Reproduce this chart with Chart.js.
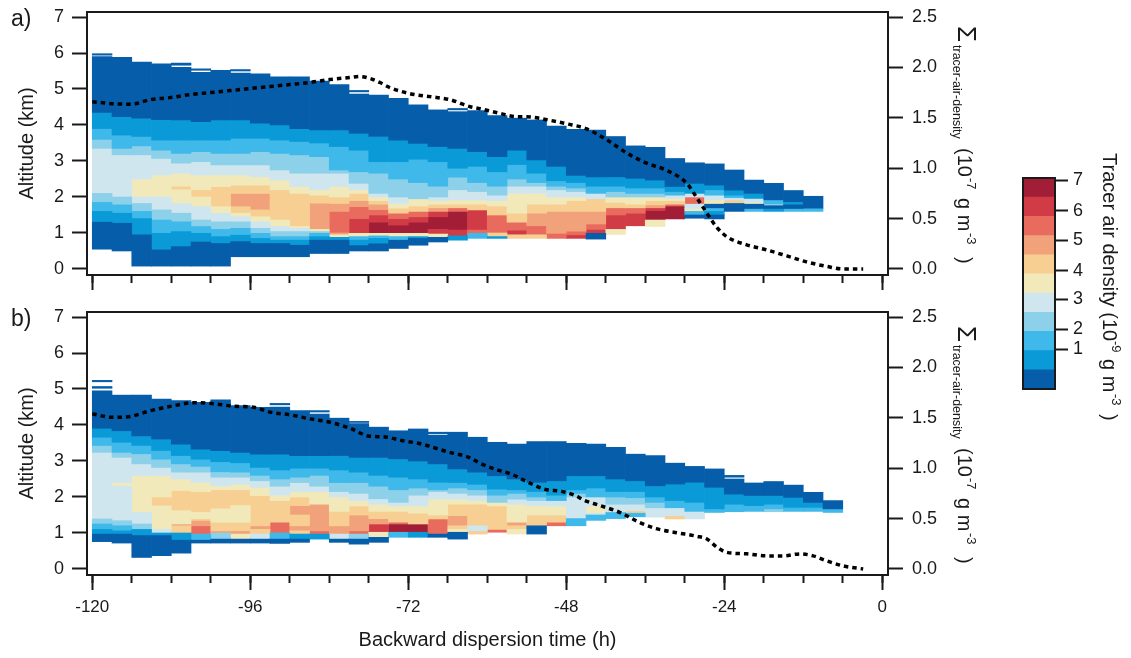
<!DOCTYPE html>
<html><head><meta charset="utf-8">
<script src="https://cdn.jsdelivr.net/npm/chart.js@4.4.1/dist/chart.umd.min.js"></script>
<style>
html,body{margin:0;padding:0;background:#fff;width:1131px;height:658px;overflow:hidden;}
canvas{position:absolute;}
#ca{left:0;top:0;} #cb{left:0;top:300px;} #cc{left:1000px;top:140px;}
</style></head><body>
<canvas id="ca" width="1000" height="300"></canvas>
<canvas id="cb" width="1000" height="358"></canvas>
<canvas id="cc" width="131" height="300"></canvas>
<script>
// ---------- DATA ----------
// start time (h) of each 3-h column
const colStartA = [-120,-117,-114,-111,-108,-105,-102,-99,-96,-93,-90,-87,-84,-81,-78,-75,-72,-69,-66,-63,-60,-57,-54,-51,-48,-45,-42,-39,-36,-33,-30,-27,-24,-21,-18,-15,-12];
const colStartB = [-120,-117,-114,-111,-108,-105,-102,-99,-96,-93,-90,-87,-84,-81,-78,-75,-72,-69,-66,-63,-60,-57,-54,-51,-48,-45,-42,-39,-36,-33,-30,-27,-24,-21,-18,-15,-12,-9];
// per column: "alt level alt level ... alt"  (altitude km, colour level 0..10, -1 = empty)
const colsA = [
"0.55 0 1.3 1 1.6 2 1.85 3 2.1 4 3.35 3 3.6 2 3.9 1 4.35 0 5.9 -1 5.94 0 5.98",
"0.5 0 1.27 1 1.55 2 1.78 3 2.0 4 3.17 3 3.35 2 3.72 1 4.23 0 5.88",
"0.08 0 0.95 1 1.4 2 1.6 3 1.82 4 2.0 5 2.5 4 3.17 3 3.42 2 3.68 1 4.19 0 5.75",
"0.08 0 0.53 1 0.99 2 1.36 3 1.64 4 2.0 5 2.61 4 3.07 3 3.3 2 3.58 1 4.15 0 5.7",
"0.08 0 0.62 1 1.04 2 1.31 3 1.55 4 1.82 5 2.2 6 2.3 5 2.66 4 2.94 3 3.21 2 3.58 1 4.14 0 5.6 -1 5.66 0 5.72",
"0.08 0 0.75 1 0.99 2 1.18 3 1.36 4 1.73 5 2.0 6 2.2 5 2.61 4 2.98 3 3.26 2 3.58 1 4.09 0 5.46 -1 5.52 0 5.56",
"0.08 0 0.71 1 0.9 2 1.1 3 1.31 4 1.55 5 1.73 6 2.29 5 2.61 4 2.89 3 3.21 2 3.58 1 4.14 0 5.52",
"0.34 0 0.76 1 0.94 2 1.13 3 1.31 4 1.45 5 1.55 6 1.73 7 2.1 6 2.33 5 2.61 4 2.89 3 3.21 2 3.63 1 4.14 0 5.44 -1 5.5 0 5.54",
"0.34 0 0.71 1 0.85 2 0.99 3 1.13 4 1.31 5 1.45 6 1.64 7 2.1 6 2.33 5 2.56 4 2.89 3 3.26 2 3.63 1 4.05 0 5.42",
"0.34 0 0.71 1 0.8 2 0.9 3 1.04 4 1.18 5 1.36 6 2.2 5 2.47 4 2.75 3 3.21 2 3.58 1 4.0 0 5.34",
"0.34 0 0.66 1 0.8 2 0.9 3 1.04 4 1.13 5 1.18 6 2.1 5 2.29 4 2.66 3 3.17 2 3.54 1 3.9 0 5.34",
"0.43 0 0.8 1 0.9 2 0.99 3 1.04 5 1.1 7 1.83 6 2.05 5 2.2 4 2.66 3 3.12 2 3.5 1 3.86 0 5.22",
"0.43 0 0.8 1 0.88 5 0.95 7 1.0 8 1.6 7 1.82 6 2.0 5 2.29 4 2.66 3 2.75 2 3.4 1 3.86 0 5.12",
"0.5 0 0.65 1 0.8 2 0.9 5 0.99 9 1.4 8 1.73 7 1.9 6 2.1 5 2.2 4 2.38 3 2.7 2 3.3 1 3.77 0 4.86 -1 4.92 0 4.96",
"0.5 0 0.7 1 0.85 2 0.92 5 0.99 10 1.3 9 1.5 8 1.65 7 1.8 6 1.9 5 2.0 4 2.1 3 2.66 2 2.98 1 3.68 0 4.83",
"0.57 0 0.8 2 0.9 5 0.99 10 1.22 9 1.4 8 1.55 6 1.69 5 1.82 4 2.0 3 2.5 2 2.98 1 3.58 0 4.74",
"0.66 0 0.85 1 0.9 5 0.99 10 1.3 9 1.45 8 1.6 6 1.75 5 1.95 3 2.4 2 3.05 1 3.49 0 4.56",
"0.75 0 0.88 5 0.97 9 1.1 10 1.45 9 1.6 7 1.7 6 1.8 5 1.9 4 2.0 3 2.3 2 2.98 1 3.4 0 4.42",
"0.8 1 0.92 9 1.08 10 1.6 8 1.7 6 1.8 5 1.92 4 2.2 3 2.55 2 2.8 1 3.35 0 4.37 -1 4.42 0 4.46",
"0.85 2 0.99 8 1.08 9 1.64 6 1.8 5 1.92 4 2.15 3 2.4 2 2.85 1 3.26 0 4.4",
"0.85 1 0.9 6 1.0 8 1.5 6 1.75 5 1.9 4 2.05 3 2.3 2 2.7 1 3.12 0 4.26",
"0.85 6 0.95 9 1.08 8 1.3 6 1.55 5 2.1 4 2.3 3 2.5 2 2.9 1 3.3 0 4.19",
"0.85 6 0.95 8 1.2 7 1.55 6 1.8 5 2.1 4 2.3 3 2.4 2 2.66 1 3.03 0 4.14",
"0.85 8 0.99 7 1.6 6 1.8 5 2.0 4 2.2 3 2.3 2 2.45 1 2.85 0 3.97",
"0.85 9 0.95 8 1.05 7 1.6 6 1.9 5 2.0 4 2.15 3 2.25 2 2.4 1 2.6 0 3.88",
"0.83 0 0.99 9 1.1 8 1.25 7 1.6 6 1.95 4 2.1 2 2.3 1 2.56 0 3.86",
"0.96 5 1.1 9 1.5 8 1.7 6 1.85 5 2.0 3 2.15 2 2.3 1 2.56 0 3.68",
"1.2 9 1.55 8 1.7 6 1.8 5 2.0 3 2.1 2 2.25 1 2.52 0 3.42",
"1.18 5 1.36 10 1.62 9 1.7 7 1.78 6 1.9 5 2.0 3 2.1 2 2.25 1 2.47 0 3.38",
"1.39 10 1.75 8 1.8 6 1.9 5 1.96 4 2.05 2 2.15 1 2.29 0 3.07",
"1.41 0 1.5 2 1.6 5 1.68 4 1.8 8 2.0 4 2.1 1 2.38 0 2.95",
"1.39 0 1.5 1 1.6 2 1.7 0 1.8 5 1.92 4 2.05 2 2.2 1 2.33 0 2.92",
"1.6 0 1.82 6 1.92 4 1.98 2 2.05 1 2.19 0 2.75",
"1.6 2 1.68 0 1.8 5 1.85 4 1.96 1 2.1 0 2.47",
"1.6 1 1.68 0 1.76 4 1.8 2 1.92 0 2.38",
"1.6 2 1.68 0 1.78 1 1.87 0 2.18",
"1.6 2 1.69 0 2.02"
];
const colsB = [
"0.76 0 0.97 1 1.1 2 1.25 3 1.39 4 3.24 3 3.43 2 3.66 1 3.91 0 4.95 -1 5.02 0 5.07 -1 5.2 0 5.24",
"0.72 0 0.97 1 1.06 2 1.2 3 1.34 4 2.3 5 2.4 4 3.1 3 3.24 2 3.52 1 3.84 0 4.83",
"0.32 0 0.93 1 1.1 3 1.25 4 1.57 5 2.59 4 2.92 3 3.2 2 3.43 1 3.7 0 4.83",
"0.37 0 0.93 1 1.0 4 1.1 5 1.75 6 2.0 5 2.59 4 2.82 3 3.05 2 3.29 1 3.61 0 4.72",
"0.44 0 0.8 1 1.0 6 1.2 7 1.25 5 1.62 6 2.18 5 2.5 4 2.69 3 2.92 2 3.15 1 3.47 0 4.68",
"0.72 0 0.8 2 0.97 8 1.2 7 1.35 6 1.4 5 1.57 6 2.15 5 2.41 4 2.69 3 2.85 2 3.05 1 3.33 0 4.63",
"0.72 0 0.83 3 1.0 7 1.06 6 1.3 5 1.67 6 2.2 5 2.31 4 2.55 3 2.7 2 2.98 1 3.29 0 4.7",
"0.72 0 0.83 5 0.97 7 1.06 6 1.3 5 1.76 6 2.2 5 2.35 4 2.55 3 2.69 2 2.95 1 3.24 0 4.54",
"0.72 0 0.83 4 0.97 6 1.1 7 1.2 6 2.04 5 2.27 4 2.45 3 2.6 2 2.82 1 3.19 0 4.49",
"0.71 0 0.83 2 1.0 8 1.3 6 1.9 5 2.05 4 2.3 3 2.5 2 2.75 1 3.19 0 4.5 -1 4.56 0 4.6",
"0.74 0 0.83 1 0.97 6 1.06 7 1.2 6 1.5 7 1.76 6 2.0 5 2.15 4 2.4 3 2.55 2 2.8 1 3.15 0 4.4",
"0.83 1 0.97 8 1.06 7 1.8 5 2.15 4 2.3 3 2.6 2 2.8 1 3.15 0 4.3 -1 4.36 0 4.4",
"0.74 0 0.83 4 0.97 7 1.2 6 1.6 5 2.0 4 2.15 3 2.4 2 2.75 1 3.15 0 4.19",
"0.69 0 0.83 3 0.97 8 1.06 7 1.5 6 1.75 5 1.9 4 2.1 3 2.4 2 2.69 1 3.1 0 4.04 -1 4.07 0 4.1",
"0.74 0 0.88 5 1.02 9 1.25 7 1.4 6 1.6 5 1.8 4 1.95 3 2.3 2 2.6 1 3.1 0 3.94",
"0.88 2 1.02 10 1.25 8 1.3 6 1.6 5 1.75 4 1.85 3 2.2 2 2.55 1 3.06 0 3.84",
"0.88 1 1.02 10 1.25 6 1.55 5 1.75 4 2.05 3 2.25 2 2.5 1 3.0 0 3.89",
"0.88 0 0.97 8 1.39 6 1.5 5 1.94 4 2.15 3 2.2 2 2.41 1 2.92 0 3.72 -1 3.76 0 3.8",
"0.83 0 1.02 5 1.1 6 1.2 7 1.48 6 1.8 5 1.94 4 2.1 3 2.25 2 2.4 1 2.78 0 3.8",
"0.97 6 1.06 4 1.2 6 1.8 5 1.9 4 2.05 3 2.2 2 2.35 1 2.69 0 3.66",
"1.02 8 1.1 6 1.75 5 1.85 3 2.05 2 2.22 1 2.59 0 3.52",
"0.97 5 1.1 6 1.2 7 1.3 5 1.8 4 1.94 3 2.1 2 2.2 1 2.5 0 3.47",
"0.97 0 1.2 6 1.5 5 1.76 4 1.9 3 2.0 2 2.15 1 2.41 0 3.54",
"1.2 8 1.3 6 1.5 5 1.75 4 1.9 2 2.05 1 2.45 0 3.54",
"1.2 2 1.4 4 2.0 3 2.1 2 2.2 1 2.59 0 3.49",
"1.35 2 1.5 4 1.55 5 1.75 4 2.0 2 2.25 1 2.59 0 3.47",
"1.4 2 1.57 4 1.8 3 2.0 2 2.15 1 2.5 0 3.38",
"1.45 2 1.55 6 1.62 4 1.8 3 1.98 2 2.15 1 2.45 0 3.19",
"1.44 4 1.7 3 1.85 2 2.0 1 2.31 0 3.15",
"1.39 6 1.48 4 1.7 2 1.9 1 2.36 0 2.94",
"1.39 4 1.6 2 1.85 1 2.41 0 2.85",
"1.57 2 1.67 1 2.27 0 2.78",
"1.59 2 1.8 1 2.08 0 2.5 -1 2.55 0 2.6",
"1.6 2 1.76 1 2.04 0 2.39",
"1.59 3 1.67 2 1.8 1 2.04 0 2.43",
"1.6 2 1.71 1 1.99 0 2.33",
"1.6 2 1.71 1 1.85 0 2.13",
"1.57 2 1.67 0 1.9"
];
// Σ tracer-air-density (10^-7 g m^-3), right axis
const lineATime  = [-120,-117,-114.1,-111.2,-108.2,-105.2,-102.1,-99.1,-96.1,-93,-90,-87,-83.9,-80.9,-79.4,-77.8,-76.3,-74.8,-71.8,-68.7,-65.7,-62.6,-61.1,-58.1,-55.5,-54,-50.9,-47.9,-44.9,-41.8,-38.8,-35.8,-32.8,-29.7,-28.2,-26.7,-25.1,-23.6,-20.6,-17.6,-14.5,-11.5,-8.4,-5.9,-2.9];
const lineAValue = [1.66,1.64,1.635,1.68,1.70,1.73,1.75,1.77,1.79,1.81,1.83,1.85,1.88,1.90,1.91,1.89,1.85,1.80,1.74,1.71,1.68,1.61,1.59,1.545,1.51,1.51,1.48,1.44,1.39,1.28,1.15,1.05,0.98,0.85,0.71,0.56,0.41,0.32,0.24,0.19,0.13,0.07,0.025,0.0,0.0];
const lineBTime  = [-120,-117,-114.1,-111.2,-107.6,-104.6,-101.6,-98.5,-95.5,-93,-90,-87,-83.9,-80.6,-78.1,-75.5,-73,-70,-68.4,-65.9,-62.9,-60.8,-58.8,-56.3,-53.8,-51.2,-48.7,-46.7,-45.2,-42.9,-39.8,-36.8,-34.3,-31.2,-28.2,-26.7,-25.1,-23.6,-20.6,-17.6,-15,-12.5,-10.5,-8.4,-5.9,-2.9];
const lineBValue = [1.54,1.505,1.515,1.57,1.62,1.65,1.64,1.615,1.605,1.556,1.53,1.49,1.456,1.39,1.32,1.31,1.275,1.24,1.21,1.16,1.11,1.04,0.99,0.94,0.86,0.79,0.77,0.73,0.68,0.63,0.56,0.46,0.40,0.36,0.325,0.30,0.215,0.165,0.15,0.13,0.13,0.15,0.13,0.08,0.03,0.0];
// ticks
const xTickValues = [-120,-96,-72,-48,-24,0];
const xTickLabels = ['-120','-96','-72','-48','-24','0'];
const xMinorTicks = [-120,-114,-108,-102,-96,-90,-84,-78,-72,-66,-60,-54,-48,-42,-36,-30,-24,-18,-12,-6,0];
const altTicks = [0,1,2,3,4,5,6,7];
const sumTicks = [0,0.5,1.0,1.5,2.0,2.5];
const cbarEdges = [0,1,2,3,4,5,6,7,8,9,10,11];
const cbarTickPos = [2.08,3.12,4.68,6.16,7.76,9.28,10.88];
const cbarTickLabels = ['1','2','3','4','5','6','7'];

// ---------- STYLE ----------
const LEVEL_COLORS = ['#065DA9','#0A9AD8','#3EB9EA','#8DD0EA','#CFE6EF','#F2E9BA','#F7CF93','#F1A27A','#E96B5E','#D13B46','#A21E37'];
const FONT = '"Liberation Sans", Arial, sans-serif';
const INK = '#1a1a1a';
const X_MIN = -120.8, X_MAX = 0.87;
const Y_MIN = -0.167, Y_MAX = 7.139;
const TICK_FONT = {family: FONT, size: 18};
const TITLE_FONT = {family: FONT, size: 20};

function heatDatasets(starts, cols) {
  const ds = LEVEL_COLORS.map((c, i) => ({
    type: 'bar', label: 'level ' + i, data: [], backgroundColor: c, borderWidth: 0,
    barPercentage: 1, categoryPercentage: 1, grouped: false, order: 2, xAxisID: 'x', yAxisID: 'y'
  }));
  cols.forEach((s, ci) => {
    const p = s.trim().split(/\s+/).map(Number);
    for (let i = 1; i < p.length - 1; i += 2) {
      const lvl = p[i];
      if (lvl < 0) continue;
      ds[lvl].data.push({x: starts[ci] + 1.5, y: [p[i - 1], p[i + 1]]});
    }
  });
  return ds;
}

function rotRuns(ctx, x, runs) {
  // text rotated 90deg clockwise; x = baseline, run.y = start position
  for (const r of runs) {
    ctx.save();
    ctx.translate(x + (r.rise || 0), r.y);
    ctx.rotate(Math.PI / 2);
    ctx.font = r.size + 'px ' + FONT;
    ctx.fillStyle = INK;
    ctx.textBaseline = 'alphabetic';
    ctx.textAlign = 'left';
    ctx.fillText(r.t, 0, 0);
    ctx.restore();
  }
}

function noPad(a) { a.paddingTop = 0; a.paddingBottom = 0; a.paddingLeft = 0; a.paddingRight = 0; }

function panelPlugin(label) {
  return {
    id: 'deco',
    afterDatasetsDraw(chart) {
      const {ctx, chartArea: a} = chart;
      ctx.save();
      ctx.strokeStyle = INK; ctx.lineWidth = 2;
      ctx.strokeRect(a.left, a.top, a.right - a.left, a.bottom - a.top);
      ctx.restore();
    },
    afterDraw(chart) {
      const ctx = chart.ctx;
      ctx.save();
      ctx.font = '23px ' + FONT; ctx.fillStyle = INK; ctx.textBaseline = 'alphabetic';
      ctx.fillText(label, 11, 26);
      rotRuns(ctx, 958, [
        {t: 'Σ', size: 26, y: 26},
        {t: 'tracer-air-density', size: 12.5, y: 45, rise: -5},
        {t: '(10', size: 20, y: 148},
        {t: '-7', size: 13, y: 178, rise: 9},
        {t: 'g m', size: 20, y: 198},
        {t: '-3', size: 13, y: 233, rise: 9},
        {t: ')', size: 20, y: 257}
      ]);
      ctx.restore();
    }
  };
}

function panelChart(id, starts, cols, lt, lv, showX, label, xHeight) {
  const datasets = heatDatasets(starts, cols);
  datasets.push({
    type: 'line', label: 'sum', data: lt.map((t, i) => ({x: t, y: lv[i]})),
    borderColor: '#000', borderWidth: 3.5, borderDash: [4.5, 4], borderCapStyle: 'butt',
    pointRadius: 0, fill: false, cubicInterpolationMode: 'monotone', order: 0, xAxisID: 'x', yAxisID: 'y2'
  });
  return new Chart(document.getElementById(id), {
    type: 'bar',
    data: {datasets},
    options: {
      responsive: false, animation: false, devicePixelRatio: 1,
      layout: {padding: {top: 12, left: 0, right: 0, bottom: 0}},
      plugins: {legend: {display: false}, tooltip: {enabled: false}},
      scales: {
        x: {
          type: 'linear', position: 'bottom', min: X_MIN, max: X_MAX, weight: 1, offset: false,
          afterBuildTicks: a => { a.ticks = xTickValues.map(v => ({value: v})); },
          afterFit: a => { a.height = xHeight; noPad(a); },
          grid: {offset: false, drawOnChartArea: false, drawTicks: true, tickLength: 15, tickWidth: 2, tickColor: INK},
          border: {display: false},
          ticks: {display: showX, autoSkip: false, maxRotation: 0, padding: 7, color: INK, font: {family: FONT, size: 17},
                  callback: (v, i) => xTickLabels[i]},
          title: {display: showX, text: 'Backward dispersion time (h)', color: INK, font: TITLE_FONT,
                  padding: {top: 0, bottom: 6}}
        },
        x2: {
          type: 'linear', position: 'bottom', min: X_MIN, max: X_MAX, weight: 0, offset: false,
          afterBuildTicks: a => { a.ticks = xMinorTicks.map(v => ({value: v})); },
          afterFit: a => { a.height = 0; noPad(a); },
          grid: {offset: false, drawOnChartArea: false, drawTicks: true, tickLength: 8, tickWidth: 2, tickColor: INK},
          border: {display: false},
          ticks: {display: false}
        },
        y: {
          type: 'linear', position: 'left', min: Y_MIN, max: Y_MAX,
          afterBuildTicks: a => { a.ticks = altTicks.map(v => ({value: v})); },
          afterFit: a => { a.width = 87; noPad(a); },
          grid: {drawOnChartArea: false, drawTicks: true, tickLength: 15, tickWidth: 2, tickColor: INK},
          border: {display: false},
          ticks: {padding: 8, color: INK, font: TICK_FONT, callback: v => String(v)},
          title: {display: true, text: 'Altitude (km)', color: INK, font: TITLE_FONT, padding: {top: 15, bottom: 0}}
        },
        y2: {
          type: 'linear', position: 'right', min: Y_MIN * 2.5 / 7, max: Y_MAX * 2.5 / 7,
          afterBuildTicks: a => { a.ticks = sumTicks.map(v => ({value: v})); },
          afterFit: a => { a.width = 112; noPad(a); },
          grid: {drawOnChartArea: false, drawTicks: true, tickLength: 15, tickWidth: 2, tickColor: INK},
          border: {display: false},
          ticks: {padding: 9, color: INK, font: TICK_FONT, callback: v => Number(v).toFixed(1)}
        }
      }
    },
    plugins: [panelPlugin(label)]
  });
}

panelChart('ca', colStartA, colsA, lineATime, lineAValue, false, 'a)', 25);
panelChart('cb', colStartB, colsB, lineBTime, lineBValue, true, 'b)', 83);

// colour bar
new Chart(document.getElementById('cc'), {
  type: 'bar',
  data: {
    labels: ['bar'],
    datasets: LEVEL_COLORS.map((c, i) => ({
      label: 'bin ' + i, data: [[cbarEdges[i], cbarEdges[i + 1]]], backgroundColor: c,
      borderWidth: 0, grouped: false, barPercentage: 1, categoryPercentage: 1
    }))
  },
  options: {
    responsive: false, animation: false, devicePixelRatio: 1,
    layout: {padding: {left: 23, top: 38, bottom: 51, right: 0}},
    plugins: {legend: {display: false}, tooltip: {enabled: false}},
    scales: {
      x: {display: false},
      y: {
        type: 'linear', position: 'right', min: 0, max: 11,
        afterBuildTicks: a => { a.ticks = cbarTickPos.map(v => ({value: v})); },
        afterFit: a => { a.width = 76; noPad(a); },
        grid: {drawOnChartArea: false, drawTicks: true, tickLength: 13, tickWidth: 2, tickColor: INK},
        border: {display: false},
        ticks: {padding: 5, color: INK, font: TICK_FONT, callback: (v, i) => cbarTickLabels[i]}
      }
    }
  },
  plugins: [{
    id: 'cbdeco',
    afterDatasetsDraw(chart) {
      const {ctx, chartArea: a} = chart;
      ctx.save(); ctx.strokeStyle = INK; ctx.lineWidth = 2;
      ctx.strokeRect(a.left, a.top, a.right - a.left, a.bottom - a.top); ctx.restore();
    },
    afterDraw(chart) {
      const ctx = chart.ctx;
      rotRuns(ctx, 103, [
        {t: 'Tracer air density (10', size: 20, y: 13},
        {t: '-9', size: 13, y: 201, rise: 9},
        {t: 'g m', size: 20, y: 219},
        {t: '-3', size: 13, y: 254, rise: 9},
        {t: ')', size: 20, y: 274}
      ]);
    }
  }]
});
</script>
</body></html>
